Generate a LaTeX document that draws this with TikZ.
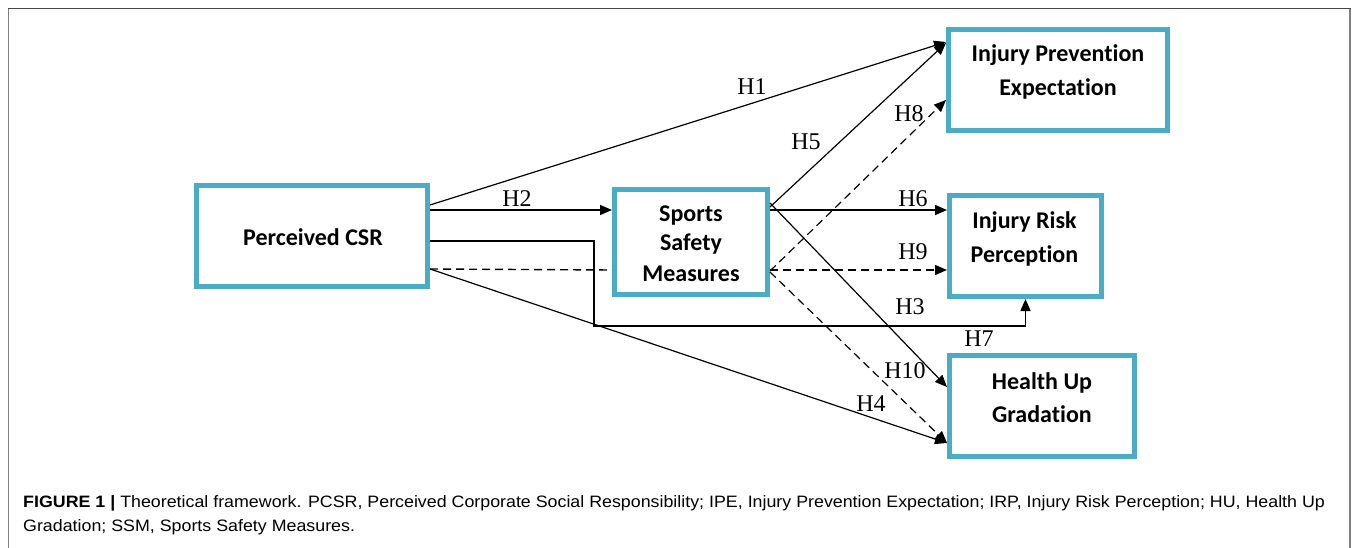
\documentclass[tikz,border=0pt]{standalone}
\usepackage{fontspec}
\setmainfont{Liberation Serif}
\newfontfamily\boxfont[Ligatures=NoCommon,Contextuals=NoAlternate]{Carlito}
\newfontfamily\capfont{Liberation Sans}
\usetikzlibrary{arrows.meta,calc}
\definecolor{boxblue}{RGB}{75,172,198}
\definecolor{framegray}{RGB}{128,128,128}
\definecolor{frametop}{RGB}{70,70,70}
\begin{document}
\begin{tikzpicture}[x=1pt,y=-1pt,
  varbox/.style={draw=boxblue,line width=5pt,fill=white,inner sep=0pt,rectangle},
  boxtext/.style={font=\boxfont\bfseries\fontsize{24}{24}\selectfont,anchor=base,inner sep=0pt},
  hlabel/.style={font=\fontsize{24}{24}\selectfont,inner sep=0pt},
  link/.style={line width=1.2pt,-{Triangle[length=12pt,width=10pt]}},
  thicklink/.style={line width=1.6pt,-{Triangle[length=12pt,width=10pt]}},
  dlink/.style={line width=1.2pt,dash pattern=on 8pt off 5pt,-{Triangle[length=12pt,width=10pt]}},
  dline/.style={line width=1.4pt,dash pattern=on 8pt off 5pt},
  captext/.style={font=\capfont\fontsize{16.5}{16.5}\selectfont,anchor=base west,inner sep=0pt}]
\useasboundingbox (0,0) rectangle (1358,548);
% frame
\draw[framegray,line width=1.5pt] (8.5,548) -- (8.5,8.5);
\draw[framegray,line width=1.5pt] (1350,548) -- (1350,8.5);
\draw[frametop,line width=1.5pt] (8,8.5) -- (1350.75,8.5);
% boxes
\node[varbox,minimum width=231pt,minimum height=101pt] (pcsr) at (312,236) {};
\node[varbox,minimum width=153pt,minimum height=105pt] (ssm) at (691,242) {};
\node[varbox,minimum width=219pt,minimum height=101pt] (ipe) at (1058,80) {};
\node[varbox,minimum width=152pt,minimum height=101pt] (irp) at (1025.5,246) {};
\node[varbox,minimum width=185pt,minimum height=101pt] (hu) at (1042,406) {};
% box texts
\node[boxtext] (pcsrt) at (313,246) {Perceived CSR};
\node[boxtext] (ssmt1) at (691,222) {Sports};
\node[boxtext] (ssmt2) at (691,251) {Safety};
\node[boxtext] (ssmt3) at (691,281) {Measures};
\node[boxtext] (ipet1) at (1058,62) {Injury Prevention};
\node[boxtext] (ipet2) at (1058,96) {Expectation};
\node[boxtext] (irpt1) at (1024.5,229) {Injury Risk};
\node[boxtext] (irpt2) at (1024.5,263) {Perception};
\node[boxtext] (hut1) at (1042,389) {Health Up};
\node[boxtext] (hut2) at (1042,422) {Gradation};
% connectors
\coordinate (k1) at (594,326);
\draw[link] (pcsr.east |- 0,205) -- (ipe.west |- 0,42);
\draw[thicklink] (pcsr.east |- 0,210) -- (ssm.west |- 0,210);
\draw[thicklink] (pcsr.east |- 0,241) -| (k1) -| (irp.south);
\draw[link] (pcsr.east |- 0,269) -- (hu.west |- 0,443);
\draw[dline] (pcsr.east |- 0,269) -- (ssm.west |- 0,270);
\draw[link] (ssm.east |- 0,207) -- (ipe.west |- 0,43);
\draw[link] (ssm.east |- 0,203) -- (hu.west |- 0,387);
\draw[thicklink] (ssm.east |- 0,210) -- (irp.west |- 0,210);
\draw[dlink] (ssm.east |- 0,271) -- (ipe.west |- 0,100);
\draw[dlink,line width=1.4pt] (ssm.east |- 0,270) -- (irp.west |- 0,270);
\draw[dlink] (ssm.east |- 0,272) -- (hu.west |- 0,443);
% labels
\node[hlabel] (h1) at (752,87) {H1};
\node[hlabel] (h2) at (517,199) {H2};
\node[hlabel] (h5) at (806,142) {H5};
\node[hlabel] (h8) at (909,114) {H8};
\node[hlabel] (h6) at (913,199) {H6};
\node[hlabel] (h9) at (913,252) {H9};
\node[hlabel] (h3) at (910,307) {H3};
\node[hlabel] (h7) at (979,339) {H7};
\node[hlabel] (h10) at (905,371) {H10};
\node[hlabel] (h4) at (871,404) {H4};
% caption
\node[captext] (cap1) at (23,507) {\scalebox{1.08}[1]{\textbf{FIGURE 1 |} Theoretical framework. PCSR, Perceived Corporate Social Responsibility; IPE, Injury Prevention Expectation; IRP, Injury Risk Perception; HU, Health Up}};
\node[captext] (cap2) at (23,531) {\scalebox{1.08}[1]{Gradation; SSM, Sports Safety Measures.}};
\end{tikzpicture}
\end{document}
